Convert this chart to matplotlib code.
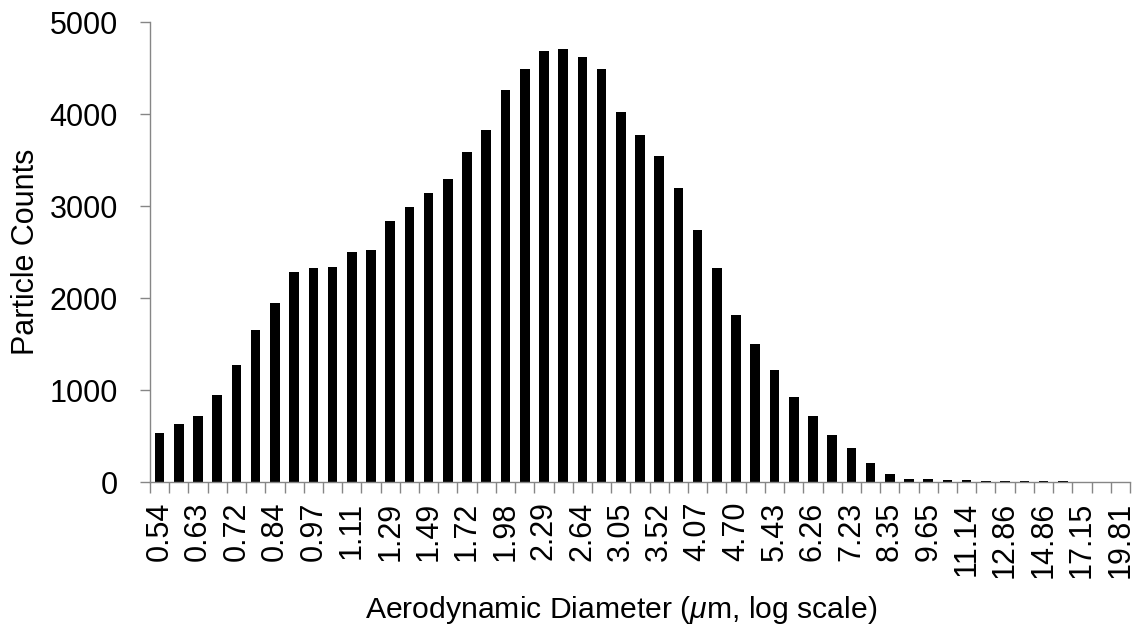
import numpy as np
import matplotlib
matplotlib.use("Agg")
import matplotlib.pyplot as plt

plt.rcParams['font.family'] = ['Liberation Sans', 'DejaVu Sans']
plt.rcParams['mathtext.fontset'] = 'custom'
plt.rcParams['mathtext.it'] = 'Liberation Sans:italic'
plt.rcParams['mathtext.rm'] = 'Liberation Sans'

# APS size bins (um), one label every other bin
diameters = [0.54, 0.58, 0.63, 0.67, 0.72, 0.78, 0.84, 0.90, 0.97, 1.04,
             1.11, 1.20, 1.29, 1.38, 1.49, 1.60, 1.72, 1.84, 1.98, 2.13,
             2.29, 2.46, 2.64, 2.84, 3.05, 3.28, 3.52, 3.79, 4.07, 4.37,
             4.70, 5.05, 5.43, 5.83, 6.26, 6.73, 7.23, 7.77, 8.35, 8.98,
             9.65, 10.37, 11.14, 11.97, 12.86, 13.82, 14.86, 15.96, 17.15, 18.43,
             19.81]
counts = [536, 634, 717, 942, 1275, 1652, 1946, 2283, 2322, 2337,
          2504, 2518, 2837, 2989, 3145, 3297, 3591, 3826, 4261, 4493,
          4688, 4703, 4620, 4493, 4018, 3772, 3547, 3196, 2739, 2322,
          1819, 1500, 1221, 928, 717, 507, 370, 203, 91, 33,
          30, 18, 18, 15, 15, 12, 12, 10, 0, 0,
          0]

x = np.arange(len(counts))

fig = plt.figure(figsize=(11.42, 6.30), dpi=100)
ax = fig.add_axes([150 / 1142, 1 - 482 / 630, 980 / 1142, 460 / 630])

ax.bar(x, counts, width=0.5, color='black')

ax.set_xlim(-0.5, len(counts) - 0.5)
ax.set_ylim(0, 5000)
ax.set_yticks(np.arange(0, 5001, 1000))

# tick marks on bin boundaries, labels on every other bin
grey = '#868686'
fs = 22
ax.set_xticks(np.arange(-0.5, len(counts), 1.0))
ax.set_xticklabels([])
ax.set_xticks(x[::2], minor=True)
ax.set_xticklabels(['%.2f' % d for d in diameters[::2]], minor=True, rotation=90)
ax.tick_params(axis='x', which='major', length=8, color=grey, width=1)
ax.tick_params(axis='x', which='minor', length=0, pad=14, labelsize=fs)
ax.tick_params(axis='y', length=7, color=grey, width=1, pad=16, labelsize=fs)

for s in ['top', 'right']:
    ax.spines[s].set_visible(False)
for s in ['left', 'bottom']:
    ax.spines[s].set_color(grey)
    ax.spines[s].set_linewidth(1)

ax.set_ylabel('Particle Counts', fontsize=fs, labelpad=6)
ax.set_xlabel(r'Aerodynamic Diameter ($\mathit{\mu}$m, log scale)', fontsize=21.7, labelpad=12)
ax.xaxis.label.set_x(0.481)

fig.savefig('out.png', dpi=100)
